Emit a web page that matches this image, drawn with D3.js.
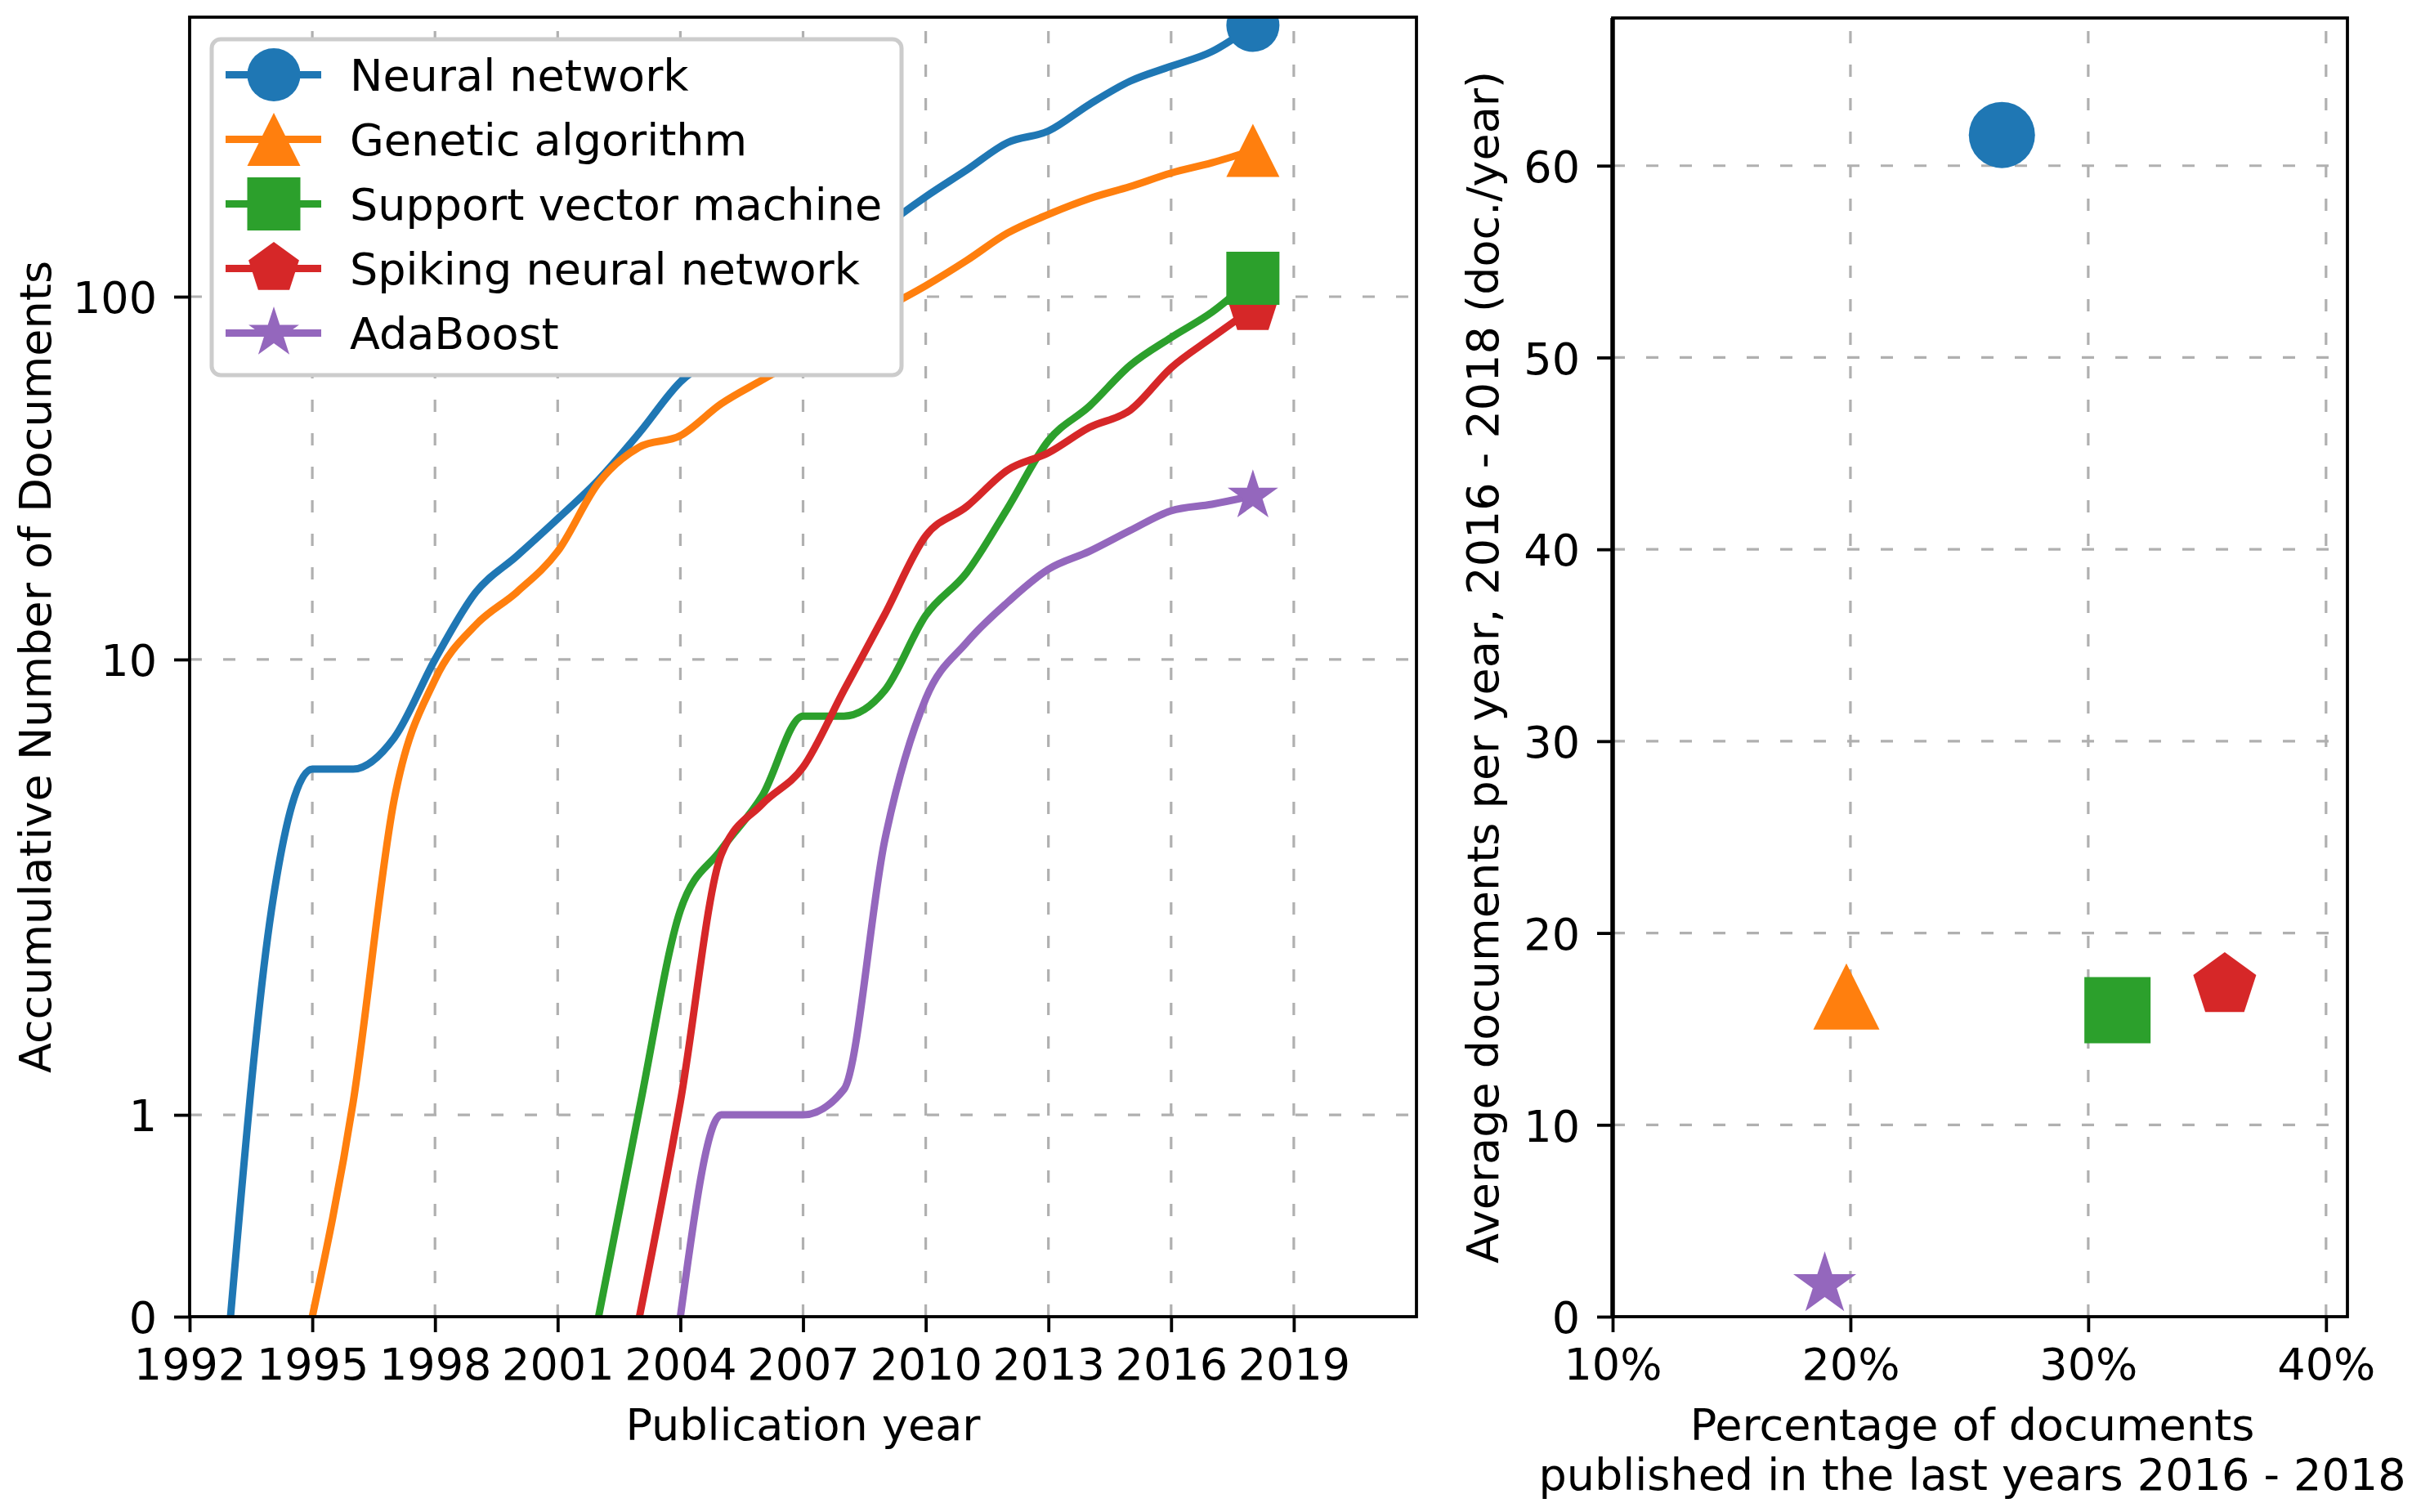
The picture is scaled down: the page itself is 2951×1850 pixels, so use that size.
<!DOCTYPE html>
<html>
<head>
<meta charset="utf-8">
<script src="https://cdn.jsdelivr.net/npm/d3@7"></script>
<style>
  body { margin: 0; background: #fff; }
  text { font-family: "DejaVu Sans", sans-serif; font-size: 54px; fill: #000; }
</style>
</head>
<body>
<svg id="chart" width="2951" height="1850"></svg>
<script>
// Data
const years = d3.range(1993, 2019);
const seriesNames = ["Neural network", "Genetic algorithm", "Support vector machine", "Spiking neural network", "AdaBoost"];
const seriesColors = ["#1f77b4", "#ff7f0e", "#2ca02c", "#d62728", "#9467bd"];
const seriesShapes = ["circle", "triangle", "square", "pentagon", "star"];

// accumulative number of documents per year (null = no documents yet)
const neuralNetwork = [0, 3.3, 6.3, 6.3, 7.2, 10, 15.6, 19.7, 25, 32, 43, 59, 71, 86, 104, 125, 154, 185, 218, 258, 277, 326, 376, 412, 451, 529];
const geneticAlgorithm = [null, null, 0, 1.1, 5.5, 9.2, 12.6, 15.6, 20.3, 31.4, 39.3, 42.2, 51.5, 59.7, 69, 80, 93, 107, 125, 148, 166, 183, 197, 214, 228, 246];
const supportVectorMachine = [null, null, null, null, null, null, null, null, null, 0, 1.05, 3.3, 4.4, 5.6, 7.9, 7.9, 8.8, 13.4, 17.7, 26.7, 40.9, 50.7, 65.4, 77.7, 90.9, 112];
const spikingNeuralNetwork = [null, null, null, null, null, null, null, null, null, null, 0, 1.1, 4.3, 5.4, 6.35, 8.8, 13.5, 22.4, 27, 34, 37.9, 44.4, 49.5, 64.4, 77.7, 93];
const adaBoost = [null, null, null, null, null, null, null, null, null, null, null, 0, 1, 1, 1, 1.2, 4.6, 8.5, 11.2, 14.6, 18.1, 20.3, 23.2, 26.3, 27.4, 28.9];
const seriesValues = [neuralNetwork, geneticAlgorithm, supportVectorMachine, spikingNeuralNetwork, adaBoost];

// scatter: share of documents in 2016-2018 (%) and average docs per year
const pctRecent = [26.37, 19.83, 31.23, 35.74, 18.92];
const avgPerYear = [61.6, 16.69, 15.98, 17.28, 1.68];

const yearTicks = d3.range(1992, 2020, 3);
const countTicks = [0, 1, 10, 100];
const pctTicks = [10, 20, 30, 40];
const avgTicks = [0, 10, 20, 30, 40, 50, 60];

// matplotlib-like marker shapes, size = full marker width in px
const shapes = {
  circle: { draw(c, s) { const r = s / 2; c.moveTo(r, 0); c.arc(0, 0, r, 0, 2 * Math.PI); } },
  triangle: { draw(c, s) { const h = s / 2; c.moveTo(0, -h); c.lineTo(-h, h); c.lineTo(h, h); c.closePath(); } },
  square: { draw(c, s) { const h = s / 2; c.rect(-h, -h, s, s); } },
  pentagon: { draw(c, s) {
    const r = s / 2;
    for (let k = 0; k < 5; k++) {
      const a = -Math.PI / 2 + k * 2 * Math.PI / 5;
      if (k === 0) c.moveTo(r * Math.cos(a), r * Math.sin(a)); else c.lineTo(r * Math.cos(a), r * Math.sin(a));
    }
    c.closePath();
  } },
  star: { draw(c, s) {
    const r = s / 2, ri = r * 0.381966;
    for (let k = 0; k < 10; k++) {
      const a = -Math.PI / 2 + k * Math.PI / 5, rr = k % 2 ? ri : r;
      if (k === 0) c.moveTo(rr * Math.cos(a), rr * Math.sin(a)); else c.lineTo(rr * Math.cos(a), rr * Math.sin(a));
    }
    c.closePath();
  } }
};

const svg = d3.select("#chart");
const gridStyle = sel => sel.attr("stroke", "#b0b0b0").attr("stroke-width", 3.2).attr("stroke-dasharray", "15,26");

// ---------- left panel ----------
const L = { left: 232, right: 1733, top: 21, bottom: 1611 };
const x = d3.scaleLinear().domain([1992, 2022]).range([L.left, L.right]);
const tf = v => Math.log10(1 + v);
const hL = L.bottom - L.top;
const y = d3.scaleLinear()
  .domain(countTicks.map(tf))
  .range([0, 0.1553, 0.5057, 0.7849].map(f => L.bottom - f * hL));
const yv = v => y(tf(v));

svg.append("clipPath").attr("id", "clipL")
  .append("rect").attr("x", L.left).attr("y", L.top).attr("width", L.right - L.left).attr("height", hL);

const gridL = svg.append("g");
gridL.selectAll(".vx").data(yearTicks.slice(1)).enter().append("line")
  .attr("x1", d => x(d)).attr("x2", d => x(d)).attr("y1", L.bottom).attr("y2", L.top).call(gridStyle);
gridL.selectAll(".hy").data(countTicks.slice(1)).enter().append("line")
  .attr("x1", L.left).attr("x2", L.right).attr("y1", d => yv(d)).attr("y2", d => yv(d)).call(gridStyle);

const line = d3.line()
  .defined(d => d.v != null)
  .x(d => x(d.year))
  .y(d => yv(d.v))
  .curve(d3.curveMonotoneX);

const linesG = svg.append("g").attr("clip-path", "url(#clipL)");
seriesValues.forEach((vals, i) => {
  const pts = vals.map((v, j) => ({ year: years[j], v }));
  linesG.append("path").datum(pts)
    .attr("d", line)
    .attr("fill", "none")
    .attr("stroke", seriesColors[i])
    .attr("stroke-width", 9)
    .attr("stroke-linejoin", "round");
});
// end markers (spiking drawn before SVM as in the reference)
[0, 1, 3, 2, 4].forEach(i => {
  const vals = seriesValues[i];
  linesG.append("path")
    .attr("d", d3.symbol().type(shapes[seriesShapes[i]]).size(65)())
    .attr("transform", `translate(${x(years[years.length - 1])},${yv(vals[vals.length - 1])})`)
    .attr("fill", seriesColors[i]);
});

const axStyle = g => {
  g.select(".domain").remove();
  g.selectAll(".tick line").attr("stroke", "#000").attr("stroke-width", 3.8);
  g.selectAll(".tick text").attr("fill", "#000").style("font-size", "54px").attr("font-family", null);
};

svg.append("g").attr("transform", `translate(0,${L.bottom})`)
  .call(d3.axisBottom(x).tickValues(yearTicks).tickFormat(d3.format("d")).tickSize(19).tickPadding(20))
  .call(axStyle);
svg.append("g").attr("transform", `translate(${L.left},0)`)
  .call(d3.axisLeft(d3.scaleLinear().domain(countTicks.map(tf)).range(y.range()))
    .tickValues(countTicks.map(tf)).tickFormat((d, i) => countTicks[i]).tickSize(19).tickPadding(21))
  .call(axStyle)
  .selectAll(".tick text").attr("dy", "0.365em");

svg.append("rect").attr("x", L.left).attr("y", L.top).attr("width", L.right - L.left).attr("height", hL)
  .attr("fill", "none").attr("stroke", "#000").attr("stroke-width", 3.8);

svg.append("text").attr("x", (L.left + L.right) / 2).attr("y", 1762).attr("text-anchor", "middle").text("Publication year");
svg.append("text").attr("transform", `translate(62,${(L.top + L.bottom) / 2}) rotate(-90)`)
  .attr("text-anchor", "middle").text("Accumulative Number of Documents");

// legend
const leg = svg.append("g");
leg.append("rect").attr("x", 259).attr("y", 48).attr("width", 844).attr("height", 411).attr("rx", 11)
  .attr("fill", "#fff").attr("stroke", "#cccccc").attr("stroke-width", 5);
seriesNames.forEach((name, i) => {
  const ry = 91.5 + i * 79;
  leg.append("line").attr("x1", 276).attr("x2", 393).attr("y1", ry).attr("y2", ry)
    .attr("stroke", seriesColors[i]).attr("stroke-width", 9);
  leg.append("path").attr("d", d3.symbol().type(shapes[seriesShapes[i]]).size(65)())
    .attr("transform", `translate(335,${ry})`).attr("fill", seriesColors[i]);
  leg.append("text").attr("x", 428).attr("y", ry + 19.6).text(name);
});

// ---------- right panel ----------
const R = { left: 1973, right: 2872, top: 22, bottom: 1611 };
const xr = d3.scaleLinear().domain([10, 40.9]).range([R.left, R.right]);
const yr = d3.scaleLinear().domain([0, 67.7]).range([R.bottom, R.top]);

const gridR = svg.append("g");
gridR.selectAll("line.v").data(pctTicks.slice(1)).enter().append("line")
  .attr("x1", d => xr(d)).attr("x2", d => xr(d)).attr("y1", R.bottom).attr("y2", R.top).call(gridStyle);
gridR.selectAll("line.h").data(avgTicks.slice(1)).enter().append("line")
  .attr("x1", R.left).attr("x2", R.right).attr("y1", d => yr(d)).attr("y2", d => yr(d)).call(gridStyle);

svg.append("g").selectAll("path").data(pctRecent).enter().append("path")
  .attr("d", (d, i) => d3.symbol().type(shapes[seriesShapes[i]]).size(81)())
  .attr("transform", (d, i) => `translate(${xr(d)},${yr(avgPerYear[i])})`)
  .attr("fill", (d, i) => seriesColors[i]);

svg.append("g").attr("transform", `translate(0,${R.bottom})`)
  .call(d3.axisBottom(xr).tickValues(pctTicks).tickFormat(d => d + "%").tickSize(19).tickPadding(20))
  .call(axStyle);
svg.append("g").attr("transform", `translate(${R.left},0)`)
  .call(d3.axisLeft(yr).tickValues(avgTicks).tickFormat(d3.format("d")).tickSize(19).tickPadding(21))
  .call(axStyle)
  .selectAll(".tick text").attr("dy", "0.365em");

svg.append("rect").attr("x", R.left).attr("y", R.top).attr("width", R.right - R.left).attr("height", R.bottom - R.top)
  .attr("fill", "none").attr("stroke", "#000").attr("stroke-width", 3.8);
svg.append("line").attr("x1", R.left).attr("x2", R.left).attr("y1", R.top).attr("y2", R.bottom)
  .attr("stroke", "#000").attr("stroke-width", 5.5);

const xlab = svg.append("text").attr("text-anchor", "middle");
xlab.append("tspan").attr("x", 2413).attr("y", 1762).text("Percentage of documents");
xlab.append("tspan").attr("x", 2413).attr("y", 1823).text("published in the last years 2016 - 2018");
svg.append("text").attr("transform", `translate(1833,${(R.top + R.bottom) / 2}) rotate(-90)`)
  .attr("text-anchor", "middle").text("Average documents per year, 2016 - 2018 (doc./year)");
</script>
</body>
</html>
